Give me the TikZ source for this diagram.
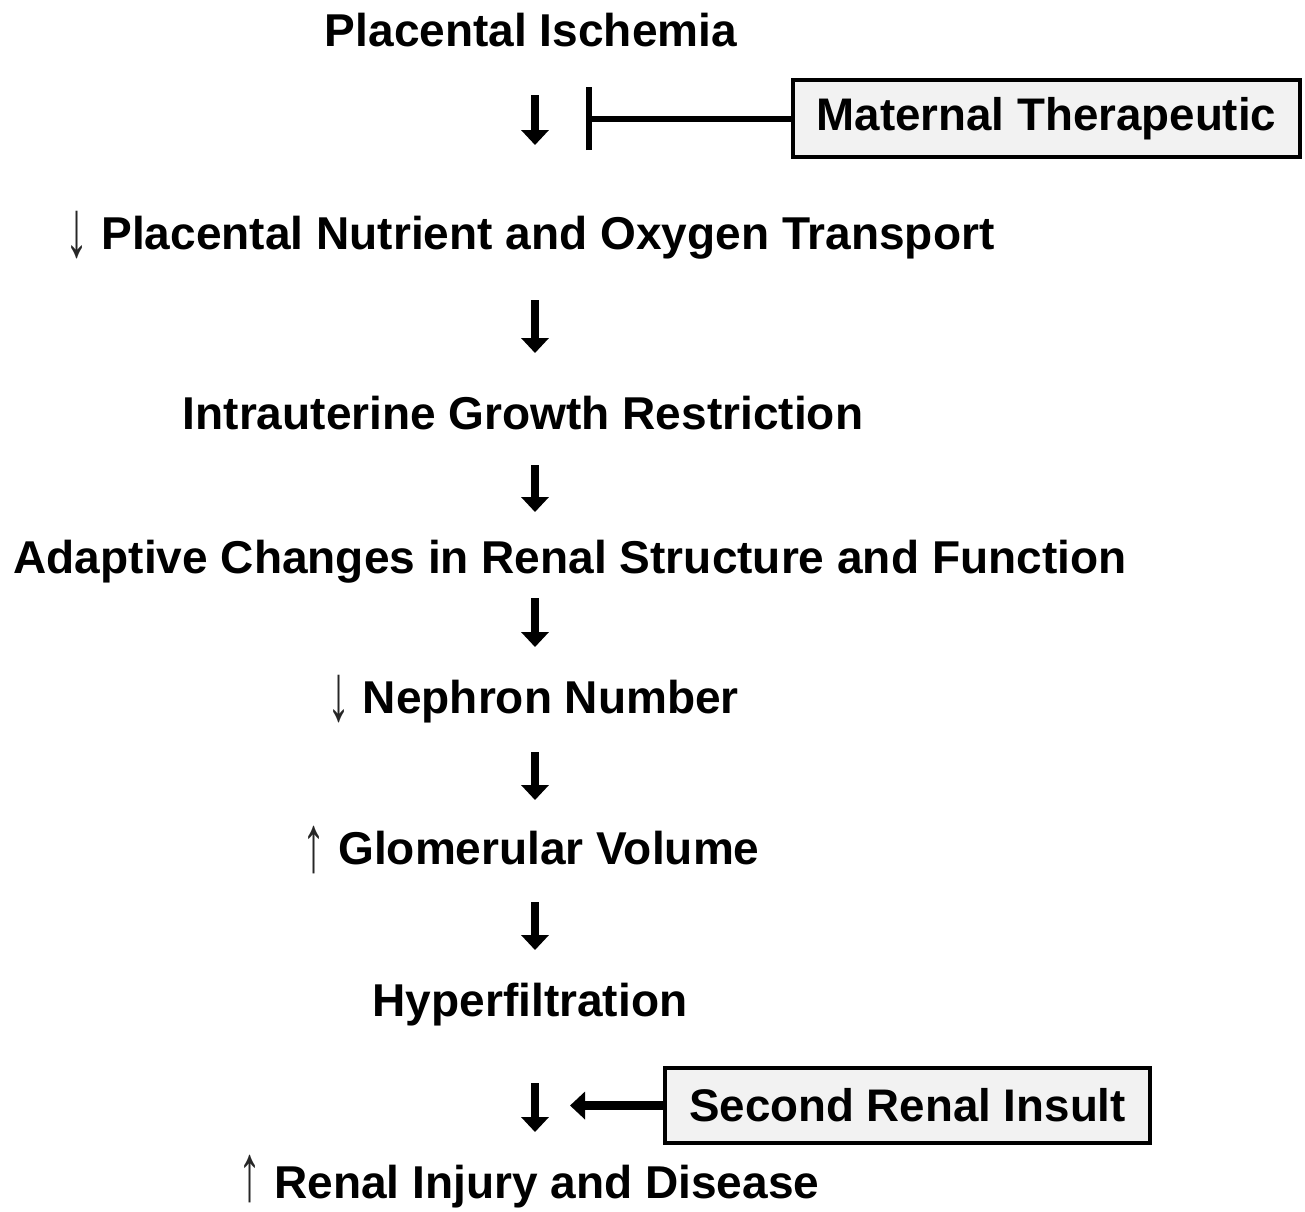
\documentclass[tikz,border=0pt]{standalone}
\usepackage{fontspec}
\usepackage{graphicx}
\setmainfont{Liberation Sans}
\newfontfamily\arrfont{Liberation Serif}
\usetikzlibrary{arrows.meta}
\definecolor{boxfill}{HTML}{F2F2F2}
\begin{document}
\begin{tikzpicture}[
  lbl/.style={anchor=base, inner sep=0pt, font=\fontsize{13.1}{15}\selectfont\bfseries},
  tbox/.style={draw, line width=1.2pt, fill=boxfill, inner sep=0pt,
    font=\fontsize{13}{15}\selectfont\bfseries},
  flow/.style={line width=2.5pt, -{Triangle[width=0.27cm,length=0.15cm]}},
  inhib/.style={line width=1.7pt, -{Bar[width=0.63cm,line width=1.7pt]}}]
\useasboundingbox (0,0) rectangle (13.05,-12.11);
\newcommand{\dn}{\raisebox{-0.32ex}{\scalebox{1}[1.75]{\arrfont\mdseries\color{black!85}↓}}}
\newcommand{\up}[1][-0.32ex]{\raisebox{#1}{\scalebox{1}[1.75]{\arrfont\mdseries\color{black!85}↑}}}
% chain of steps
\node[lbl] (isch) at (5.31,-0.46) {Placental Ischemia};
\node[lbl] (trans) at (5.30,-2.49) {\dn\ Placental Nutrient and Oxygen Transport};
\node[lbl] (iugr) at (5.23,-4.29) {Intrauterine Growth Restriction};
\node[lbl] (adapt) at (5.70,-5.73) {Adaptive Changes in Renal Structure and Function};
\node[lbl] (neph) at (5.33,-7.13) {\dn\ Nephron Number};
\node[lbl] (glom) at (5.31,-8.64) {\up\ Glomerular Volume};
\node[lbl] (hyper) at (5.30,-10.16) {Hyperfiltration};
\node[lbl] (inj) at (5.29,-11.98) {\up[-0.1ex]\ Renal Injury and Disease};
% side boxes
\node[tbox, minimum width=5.07cm, minimum height=0.77cm] (ther) at (10.465,-1.185) {Maternal Therapeutic};
\node[tbox, minimum width=4.85cm, minimum height=0.75cm] (ins) at (9.075,-11.055) {Second Renal Insult};
% arrows between steps
\coordinate (a1) at (5.35,-0.95); \coordinate (b1) at (5.35,-1.45);
\coordinate (a2) at (5.35,-3.00); \coordinate (b2) at (5.35,-3.53);
\coordinate (a3) at (5.35,-4.65); \coordinate (b3) at (5.35,-5.12);
\coordinate (a4) at (5.35,-5.98); \coordinate (b4) at (5.35,-6.47);
\coordinate (a5) at (5.35,-7.52); \coordinate (b5) at (5.35,-8.00);
\coordinate (a6) at (5.35,-9.02); \coordinate (b6) at (5.35,-9.50);
\coordinate (a7) at (5.35,-10.83); \coordinate (b7) at (5.35,-11.32);
\foreach \i in {1,...,7} {\draw[flow] (a\i) -- (b\i);}
\coordinate (bar) at (5.86,-1.185);
\draw[inhib] (ther.west) -- (bar);
\coordinate (hit) at (5.70,-11.055);
\draw[flow] (ins.west) -- (hit);
\end{tikzpicture}
\end{document}
